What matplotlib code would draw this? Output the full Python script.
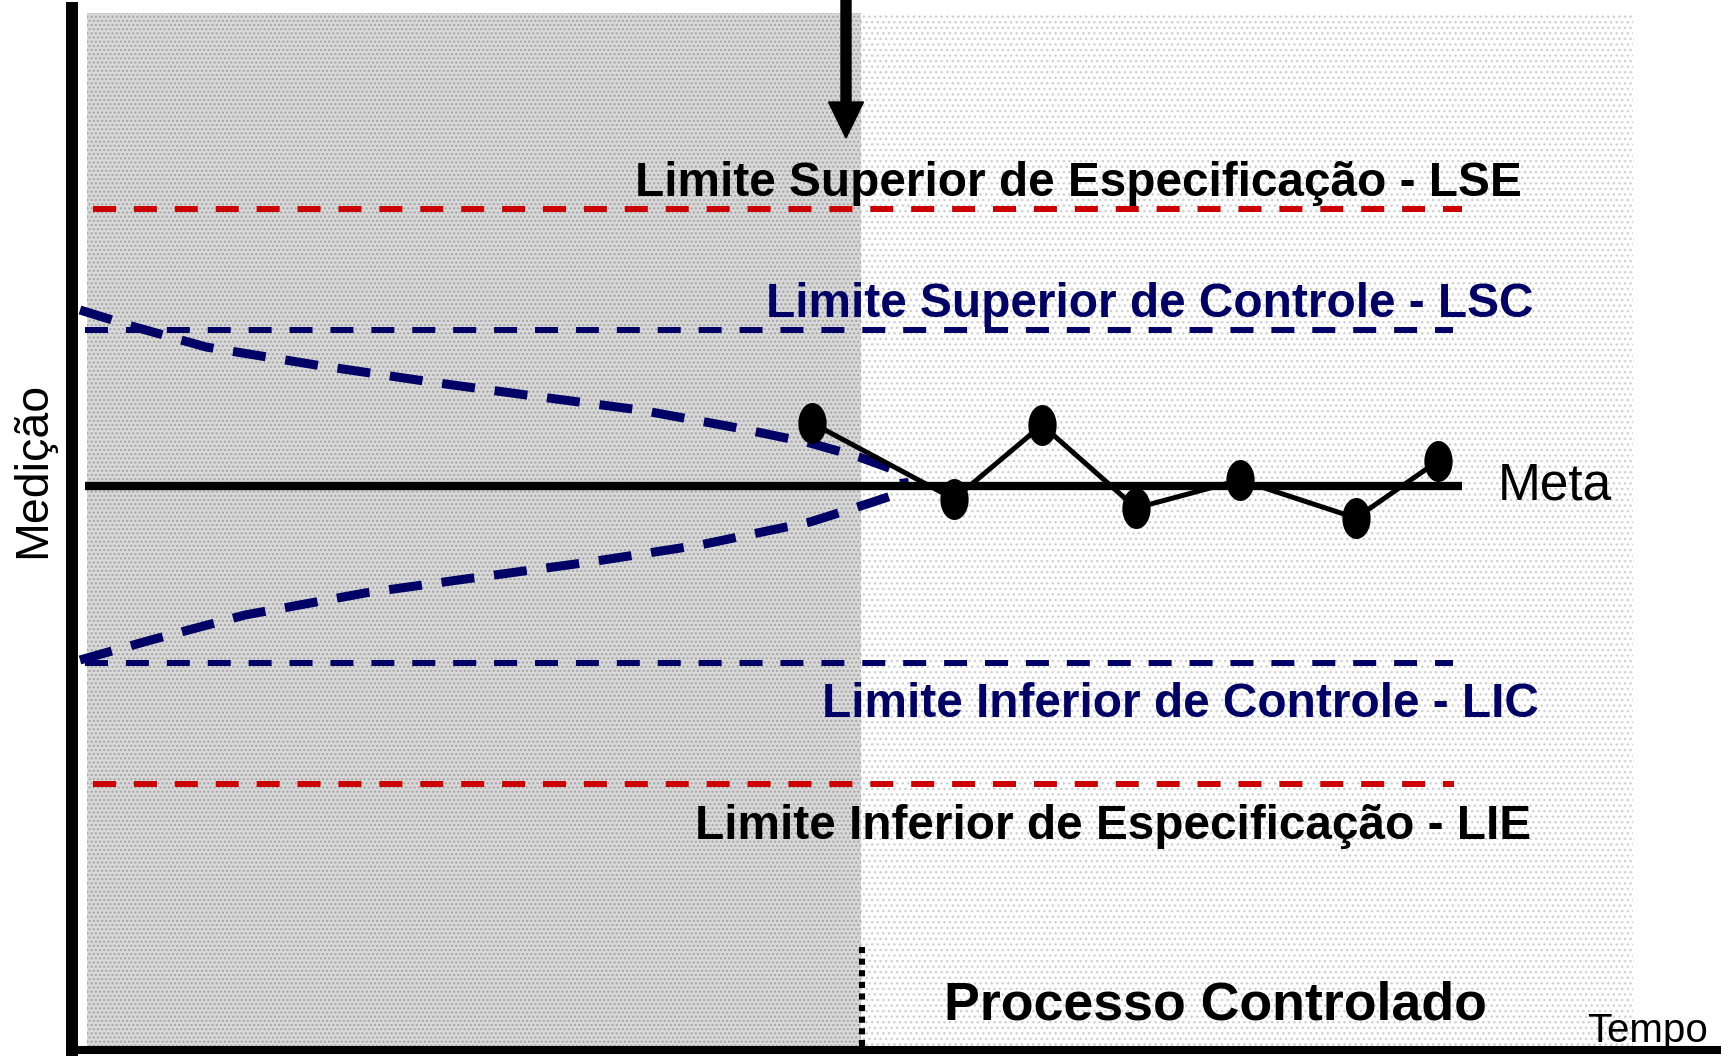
import numpy as np
import matplotlib
matplotlib.use("Agg")
import matplotlib.pyplot as plt
from matplotlib.patches import Rectangle, FancyArrow
from matplotlib.path import Path

plt.rcParams['font.family'] = ['Liberation Sans', 'DejaVu Sans']

# limits (measurement units)
lse = 8.41
lsc = 7.20
meta = 5.64
lic = 3.87
lie = 2.66

# funnel of the process before control (time, measurement)
funil_sup_x = [0.08, 0.63, 1.34, 2.44, 3.59, 4.69, 5.68, 6.66, 7.38, 7.87, 8.31, 8.33]
funil_sup_y = [7.40, 7.23, 7.03, 6.85, 6.68, 6.53, 6.40, 6.22, 6.07, 5.93, 5.77, 5.62]
funil_inf_x = [0.08, 0.79, 1.73, 2.93, 4.08, 5.18, 6.28, 7.38, 7.98, 8.31]
funil_inf_y = [3.90, 4.10, 4.35, 4.57, 4.73, 4.88, 5.05, 5.28, 5.47, 5.58]

# measured points
tempo = [7.40, 8.82, 9.70, 10.64, 11.68, 12.84, 13.66]
medicao = [6.27, 5.51, 6.25, 5.42, 5.70, 5.32, 5.89]

# phases
inicio_controle = 7.89
fim_grafico = 15.61

fig = plt.figure(figsize=(17.21, 10.56), dpi=100)
ax = fig.add_axes([72/1721, 6/1056, 1649/1721, 1042/1056])
ax.set_xlim(0, 16.49)
ax.set_ylim(0, 10.42)

# backgrounds
ax.add_patch(Rectangle((0.15, 0), inicio_controle - 0.15, 10.37, facecolor='#d8d8d8',
                       edgecolor='#a4a4a4', hatch='....', lw=0, zorder=0))
ax.add_patch(Rectangle((inicio_controle, 0), fim_grafico - inicio_controle, 10.37, facecolor='white',
                       edgecolor='#cfcfcf', hatch='...', lw=0, zorder=0))

# limit lines
ax.plot([0.21, 13.90], [lse, lse], color='#cc0000', lw=4.3, dashes=(3.85, 3.0), zorder=2)
ax.plot([0.13, 13.81], [lsc, lsc], color='#000066', lw=4.3, dashes=(3.85, 3.0), zorder=2)
ax.plot([0.13, 13.81], [lic, lic], color='#000066', lw=4.3, dashes=(3.85, 3.0), zorder=2)
ax.plot([0.21, 13.82], [lie, lie], color='#cc0000', lw=4.3, dashes=(3.85, 3.0), zorder=2)
ax.plot([0.13, 13.90], [meta, meta], color='black', lw=6.0, solid_capstyle='butt', zorder=3)

# funnel
ax.plot(funil_sup_x, funil_sup_y, color='#000066', lw=6.5, dashes=(3.66, 2.2), zorder=2)
ax.plot(funil_inf_x, funil_inf_y, color='#000066', lw=6.5, dashes=(3.66, 2.2), zorder=2)

# measurements with elliptical markers
t = np.linspace(0, 2*np.pi, 60)
elipse = Path(np.column_stack([0.69*np.cos(t), np.sin(t)]), closed=True)
ax.plot(tempo, medicao, color='black', lw=3.6, marker=elipse, markersize=29.5,
        markeredgewidth=0, zorder=4)

# arrow marking start of control
ax.add_patch(FancyArrow(7.74, 10.52, 0, -1.40, width=0.10, head_width=0.35, head_length=0.36,
                        length_includes_head=True, color='black', clip_on=False, zorder=5))

# dotted divider
ax.plot([7.90, 7.90], [0.04, 1.07], color='black', lw=4.4, dashes=(1, 0.9), zorder=3)

# labels
ax.text(14.50, 8.54, 'Limite Superior de Especificação - LSE', fontsize=34.4,
        fontweight='bold', color='black', ha='right', va='baseline')
ax.text(14.61, 7.33, 'Limite Superior de Controle - LSC', fontsize=34.4,
        fontweight='bold', color='#000066', ha='right', va='baseline')
ax.text(14.67, 3.33, 'Limite Inferior de Controle - LIC', fontsize=34.4,
        fontweight='bold', color='#000066', ha='right', va='baseline')
ax.text(14.59, 2.11, 'Limite Inferior de Especificação - LIE', fontsize=34.4,
        fontweight='bold', color='black', ha='right', va='baseline')
ax.text(14.26, 5.51, 'Meta', fontsize=37, color='black', ha='left', va='baseline')
ax.text(8.72, 0.30, 'Processo Controlado', fontsize=38.6, fontweight='bold',
        color='black', ha='left', va='baseline')
ax.text(15.15, 0.08, 'Tempo', fontsize=29, color='black', ha='left', va='baseline')
fig.text(33/1721, 1 - 470/1056, 'Medição', fontsize=33.5, rotation=90,
         ha='center', va='center')

# axes
for s in ['top', 'right']:
    ax.spines[s].set_visible(False)
ax.spines['left'].set_linewidth(8.6)
ax.spines['bottom'].set_linewidth(5.8)
ax.set_xticks([])
ax.set_yticks([])

fig.savefig('out.png', dpi=100)
